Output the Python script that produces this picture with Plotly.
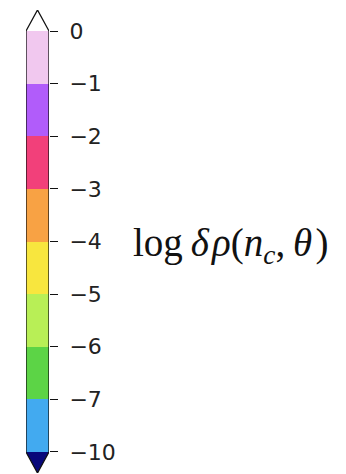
import plotly.graph_objects as go

# Colour levels of log δρ, from the top of the bar downwards
tick_labels = ["0", "\u22121", "\u22122", "\u22123", "\u22124", "\u22125", "\u22126", "\u22127", "\u221210"]
band_colors = ["#f1c8ef", "#b15cfa", "#f2407a", "#f8a244", "#f8e63e",
               "#b8ef56", "#5cd446", "#42aaf0"]
over_color = "#ffffff"
under_color = "#08087a"
extend_frac = 0.4  # length of the end triangles, in band units

# evenly spaced positions, one per tick label
positions = [-i for i in range(len(tick_labels))]
top, bottom = positions[0], positions[-1]

fig = go.Figure()

# colour bands
fig.add_trace(go.Bar(
    x=[0] * len(band_colors),
    y=[positions[i] - positions[i + 1] for i in range(len(band_colors))],
    base=positions[1:],
    width=1,
    marker=dict(color=band_colors, line=dict(width=0)),
    hoverinfo="skip",
))

# extension triangles
fig.add_trace(go.Scatter(
    x=[-0.5, 0, 0.5, -0.5], y=[top, top + extend_frac, top, top],
    fill="toself", fillcolor=over_color, mode="none", hoverinfo="skip",
))
fig.add_trace(go.Scatter(
    x=[-0.5, 0, 0.5, -0.5], y=[bottom, bottom - extend_frac, bottom, bottom],
    fill="toself", fillcolor=under_color, mode="none", hoverinfo="skip",
))

# outline around bar and triangles
fig.add_trace(go.Scatter(
    x=[0, 0.5, 0.5, 0, -0.5, -0.5, 0],
    y=[top + extend_frac, top, bottom, bottom - extend_frac, bottom, top, top + extend_frac],
    mode="lines", line=dict(color="#111111", width=1.3),
    hoverinfo="skip", cliponaxis=False,
))

fig.update_layout(
    width=346, height=474,
    margin=dict(l=26, r=297, t=10, b=1),
    paper_bgcolor="white", plot_bgcolor="white",
    showlegend=False,
    bargap=0,
    xaxis=dict(range=[-0.5, 0.5], visible=False, fixedrange=True),
    yaxis=dict(
        range=[bottom - extend_frac, top + extend_frac],
        side="right",
        tickmode="array", tickvals=positions, ticktext=tick_labels,
        ticks="outside", ticklen=8, tickwidth=1.3, tickcolor="#111111",
        ticklabelstandoff=7,
        tickfont=dict(family="DejaVu Sans", size=22, color="#222222"),
        showgrid=False, zeroline=False, showline=False,
    ),
    annotations=[dict(
        text="log\u2009<i>δ\u200aρ</i>(<i>n</i><sub><i>c</i></sub>,\u2009<i>θ</i>\u200a)",
        xref="paper", yref="y",
        x=(131 - 26) / 23, y=(positions[4] + positions[5]) / 2 + 0.42,
        xanchor="left", yanchor="middle",
        showarrow=False,
        font=dict(family="Liberation Serif", size=39, color="#111111"),
    )],
)

fig.write_html("out.html")
